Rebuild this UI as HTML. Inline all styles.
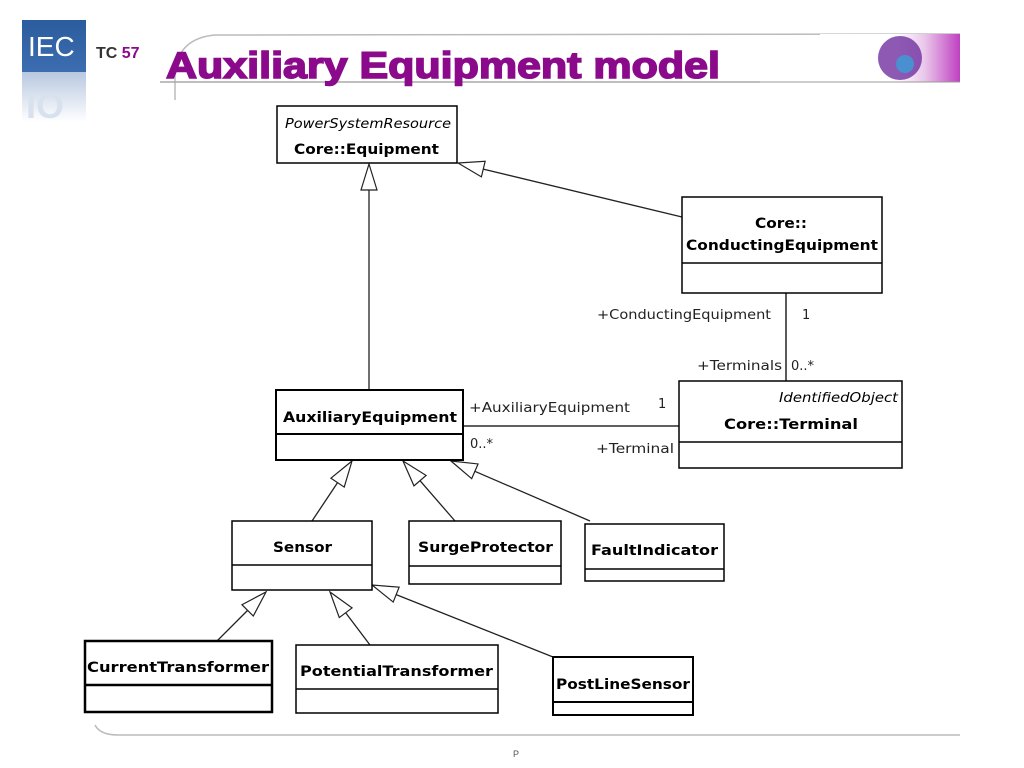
<!DOCTYPE html>
<html><head><meta charset="utf-8">
<style>
body{margin:0;background:#fff;width:1024px;height:768px;overflow:hidden;position:relative;font-family:"Liberation Sans",sans-serif}
svg{position:absolute;left:0;top:0}
</style></head><body>
<svg id="s" width="1024" height="768" viewBox="0 0 1024 768">
<defs>
<linearGradient id="bar" x1="0" x2="1"><stop offset="0" stop-color="#fff"/><stop offset="0.55" stop-color="#fff"/><stop offset="0.75" stop-color="#e9c6ea"/><stop offset="1" stop-color="#c040c0"/></linearGradient>
<linearGradient id="blue" x1="0" y1="0" x2="0" y2="1"><stop offset="0" stop-color="#2a5c9e"/><stop offset="1" stop-color="#3b6db0"/></linearGradient>
<linearGradient id="fade" x1="0" y1="0" x2="0" y2="1"><stop offset="0" stop-color="#b8c8e0"/><stop offset="1" stop-color="#fff"/></linearGradient>
</defs>
<rect x="22" y="20" width="64" height="52" fill="url(#blue)"/>
<text x="28" y="56" font-size="28" fill="#fff" font-family="Liberation Sans">IEC</text>
<rect x="22" y="72" width="64" height="50" fill="url(#fade)"/>
<text x="26" y="118" font-size="36" fill="#d8e2ef" font-weight="bold">IO</text>
<text x="96" y="58" font-size="16" fill="#333" font-weight="bold">TC <tspan fill="#8b0a8b">57</tspan></text>
<path d="M175,100 L175,70 Q180,38 215,35 L960,34" fill="none" stroke="#bbb" stroke-width="1.5"/>
<rect x="820" y="34" width="140" height="48" fill="url(#bar)"/>
<circle cx="900" cy="58" r="22" fill="#7030a0" opacity="0.8"/>
<circle cx="905" cy="64" r="9" fill="#4a90d0"/>
<line x1="160" y1="82" x2="760" y2="82" stroke="#aaa" stroke-width="1.5"/>
<line x1="760" y1="82" x2="960" y2="82" stroke="#999"/>
<text x="166" y="78" font-size="37" font-weight="bold" fill="#8b0a8b" stroke="#8b0a8b" stroke-width="1.6" textLength="554" lengthAdjust="spacingAndGlyphs" font-family="Liberation Sans">Auxiliary Equipment model</text>
<path d="M95,725 Q100,735 118,735 L960,735" fill="none" stroke="#bbb" stroke-width="1.5"/>
<text x="513" y="757" font-size="9" fill="#555">P</text>
<g id="d" fill="none" stroke="#000" font-family="DejaVu Sans, sans-serif"></g>
</svg>
<script>
var g=document.getElementById('d'),h='';
function box(x,y,w,hh,div,lw){h+='<rect x="'+x+'" y="'+y+'" width="'+w+'" height="'+hh+'" fill="#fff" stroke="#000" stroke-width="'+(lw||1.5)+'"/>';if(div)h+='<line x1="'+x+'" y1="'+div+'" x2="'+(x+w)+'" y2="'+div+'" stroke="#000" stroke-width="'+(lw||1.5)+'"/>';}
function t(x,y,s,o){o=o||{};h+='<text x="'+x+'" y="'+y+'" font-size="'+(o.fs||14)+'" fill="'+(o.c||'#000')+'" stroke="none" '+(o.b?'font-weight="bold" ':'')+(o.i?'font-style="italic" ':'')+(o.L?'textLength="'+o.L+'" lengthAdjust="spacingAndGlyphs" ':'')+'text-anchor="'+(o.a||'start')+'">'+s+'</text>';}
function gen(x1,y1,x2,y2){var dx=x2-x1,dy=y2-y1,L=Math.hypot(dx,dy),ux=dx/L,uy=dy/L,bx=x2-ux*26,by=y2-uy*26,px=-uy*8,py=ux*8;
h+='<line x1="'+x1+'" y1="'+y1+'" x2="'+bx+'" y2="'+by+'" stroke="#222" stroke-width="1.3"/>';
h+='<polygon points="'+x2+','+y2+' '+(bx+px)+','+(by+py)+' '+(bx-px)+','+(by-py)+'" fill="#fff" stroke="#222" stroke-width="1.2"/>';}
gen(369,390,369,164);
gen(682,217,458,163);
gen(312,521,352,461);
gen(455,521,403,461);
gen(590,521,451,461);
gen(217,641,266,592);
gen(370,645,330,592);
gen(553,657,372,585);
h+='<line x1="786" y1="293" x2="786" y2="381" stroke="#000" stroke-width="1.3"/>';
h+='<line x1="463" y1="426" x2="679" y2="426" stroke="#000" stroke-width="1.3"/>';
box(277,106,180,57,0);
t(285,128,'PowerSystemResource',{i:1,fs:13,L:166});
t(294,154,'Core::Equipment',{b:1,fs:14,L:145});
box(682,197,200,96,263);
t(755,228,'Core::',{b:1,fs:14,L:52});
t(686,250,'ConductingEquipment',{b:1,fs:14,L:192});
box(679,381,223,87,442);
t(779,402,'IdentifiedObject',{i:1,fs:13,L:119});
t(724,429,'Core::Terminal',{b:1,fs:14,L:134});
box(276,390,187,70,434,2);
t(283,422,'AuxiliaryEquipment',{b:1,fs:14,L:174});
box(232,521,140,69,565);
t(273,552,'Sensor',{b:1,fs:14,L:59});
box(409,521,152,63,566);
t(418,552,'SurgeProtector',{b:1,fs:14,L:135});
box(585,524,139,57,569);
t(591,555,'FaultIndicator',{b:1,fs:14,L:127});
box(85,641,187,71,685,2.5);
t(87,672,'CurrentTransformer',{b:1,fs:14,L:182});
box(296,645,202,68,689);
t(300,676,'PotentialTransformer',{b:1,fs:14,L:193});
box(553,657,140,58,702,2);
t(556,689,'PostLineSensor',{b:1,fs:14,L:134});
t(597,319,'+ConductingEquipment',{fs:13,c:'#222',L:174});
t(802,319,'1',{fs:13,c:'#222'});
t(697,370,'+Terminals',{fs:13,c:'#222',L:85});
t(791,370,'0..*',{fs:13,c:'#222'});
t(469,412,'+AuxiliaryEquipment',{fs:13,c:'#222',L:161});
t(658,408,'1',{fs:13,c:'#222'});
t(470,448,'0..*',{fs:13,c:'#222'});
t(596,453,'+Terminal',{fs:13,c:'#222',L:78});
g.innerHTML=h;
</script>
</body></html>
